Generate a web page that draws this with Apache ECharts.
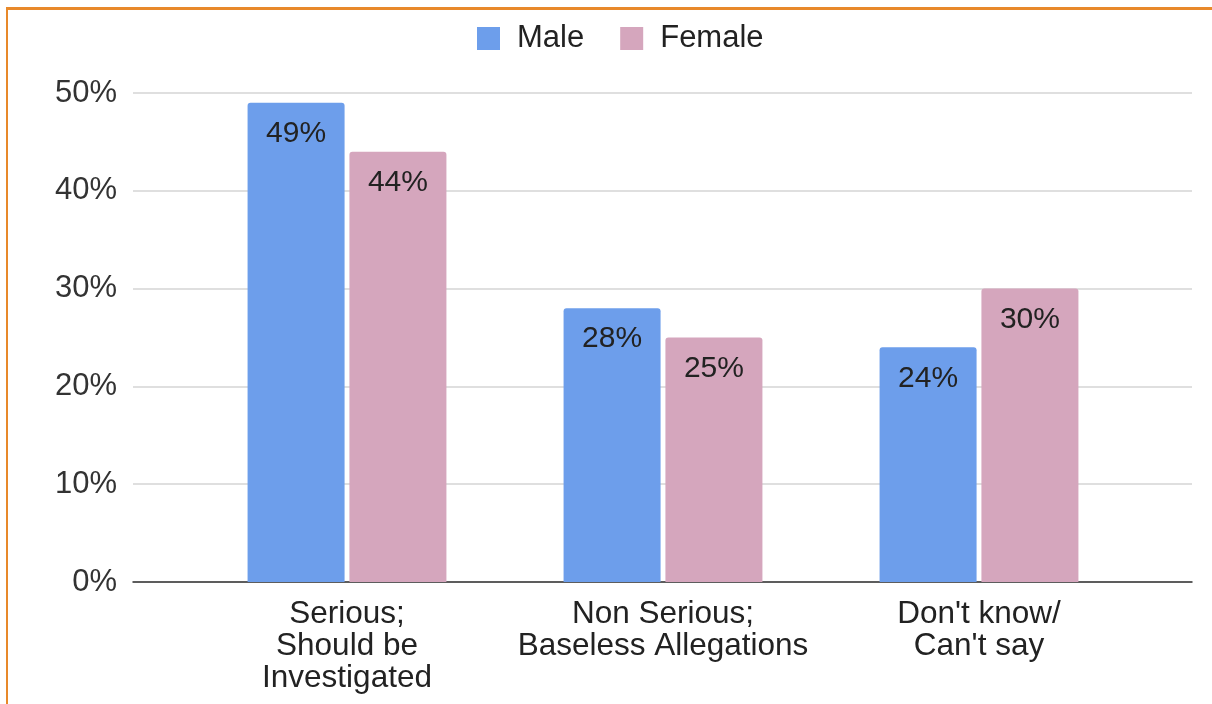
<!DOCTYPE html>
<html>
<head>
<meta charset="utf-8">
<script src="https://cdn.jsdelivr.net/npm/echarts@6/dist/echarts.min.js"></script>
<style>
html,body{margin:0;padding:0;background:#fff;}
#frame{position:absolute;left:6px;top:7px;width:1206px;height:697px;border-top:3px solid #e8892a;border-left:2px solid #e8892a;box-sizing:border-box;}
#chart{position:absolute;left:0;top:0;width:1212px;height:704px;}
</style>
</head>
<body>
<div id="frame"></div>
<div id="chart"></div>
<script>
var categories = ["Serious;\nShould be\nInvestigated", "Non Serious;\nBaseless Allegations", "Don't know/\nCan't say"];
var maleValues = [49, 28, 24];
var femaleValues = [44, 25, 30];
var seriesNames = ["Male", "Female"];
var yMin = 0, yMax = 50, yInterval = 10;

var font = "Liberation Sans, Arial, sans-serif";
var chart = echarts.init(document.getElementById('chart'));
var labelCfg = {
  show: true, position: 'insideTop', distance: 16,
  formatter: function(p){ return p.value + '%'; },
  color: '#222', fontSize: 30, fontFamily: font
};
chart.setOption({
  animation: false,
  legend: {
    top: 18, left: 472, itemWidth: 23, itemHeight: 23, itemGap: 36,
    icon: 'rect',
    textStyle: { fontSize: 31, color: '#222', fontFamily: font, padding: [0,0,0,12] },
    data: seriesNames
  },
  grid: [
    { left: 133, right: 20, top: 93, bottom: 122 },
    { left: 189, right: 75, top: 93, bottom: 122 }
  ],
  xAxis: [
    { type: 'category', gridIndex: 0, data: [''],
      axisLine: { show: true, lineStyle: { color: '#333', width: 1.5 } },
      axisTick: { show: false }, axisLabel: { show: false }, splitLine: { show: false } },
    { type: 'category', gridIndex: 1, data: categories,
      axisLine: { show: false }, axisTick: { show: false },
      axisLabel: { color: '#222', fontSize: 31.5, lineHeight: 32, margin: 16, fontFamily: font, interval: 0 } }
  ],
  yAxis: [
    { type: 'value', gridIndex: 0, min: yMin, max: yMax, interval: yInterval,
      axisLine: { show: false }, axisTick: { show: false },
      axisLabel: { formatter: '{value}%', color: '#333', fontSize: 31, margin: 16, fontFamily: font },
      splitLine: { lineStyle: { color: '#d4d4d4', width: 1.5 } } },
    { type: 'value', gridIndex: 1, min: yMin, max: yMax, interval: yInterval, show: false,
      splitLine: { show: false } }
  ],
  series: [
    { name: seriesNames[0], type: 'bar', xAxisIndex: 1, yAxisIndex: 1, data: maleValues,
      barWidth: 97, barGap: '5%', itemStyle: { color: '#6d9eeb', borderRadius: [3,3,0,0] }, label: labelCfg },
    { name: seriesNames[1], type: 'bar', xAxisIndex: 1, yAxisIndex: 1, data: femaleValues,
      barWidth: 97, barGap: '5%', itemStyle: { color: '#d5a6bd', borderRadius: [3,3,0,0] }, label: labelCfg }
  ]
});
</script>
</body>
</html>
